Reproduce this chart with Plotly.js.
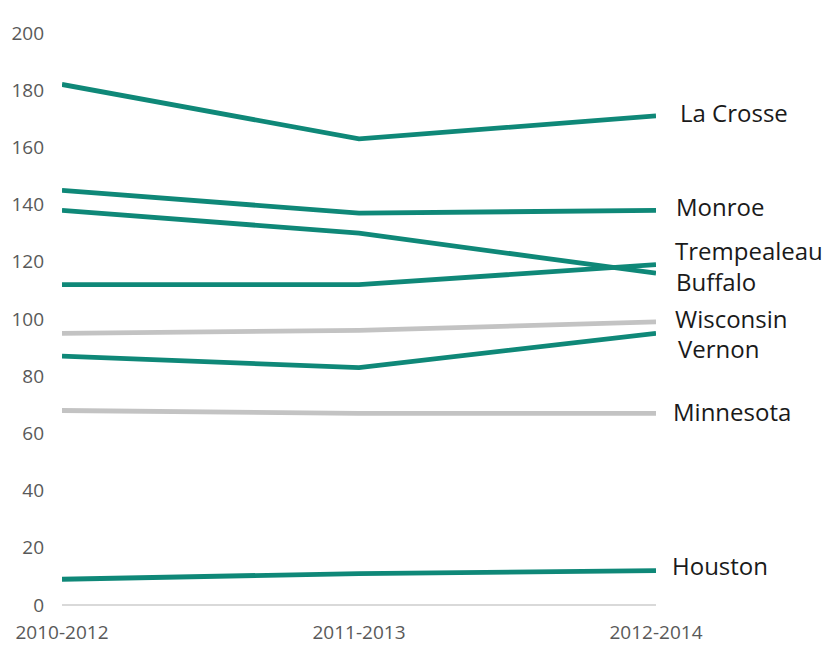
<!DOCTYPE html>
<html>
<head>
<meta charset="utf-8">
<script src="https://cdn.plot.ly/plotly-3.0.1.min.js"></script>
<style>html,body{margin:0;padding:0;background:#fff;}#chart{width:827px;height:646px;}</style>
</head>
<body>
<div id="chart"></div>
<script>
const periods = ["2010-2012", "2011-2013", "2012-2014"];
const seriesNames = ["Wisconsin", "Minnesota", "La Crosse", "Monroe", "Buffalo", "Trempealeau", "Vernon", "Houston"];
const wisconsin = [95, 96, 99];
const minnesota = [68, 67, 67];
const laCrosse = [182, 163, 171];
const monroe = [145, 137, 138];
const buffalo = [138, 130, 116];
const trempealeau = [112, 112, 119];
const vernon = [87, 83, 95];
const houston = [9, 11, 12];
const yTicks = [0, 20, 40, 60, 80, 100, 120, 140, 160, 180, 200];

const teal = "#0f8878";
const grey = "#c3c3c3";
const values = [wisconsin, minnesota, laCrosse, monroe, buffalo, trempealeau, vernon, houston];
const colors = [grey, grey, teal, teal, teal, teal, teal, teal];
// label offsets (pixels) relative to the last point
const labelShift = {
  "Wisconsin": [17, 3], "Minnesota": [15, 2], "La Crosse": [22, 3], "Monroe": [18, 4],
  "Buffalo": [18, -8], "Trempealeau": [17, 14], "Vernon": [20, -15], "Houston": [14, 5]
};

const traces = seriesNames.map((name, i) => ({
  x: periods, y: values[i], type: "scatter", mode: "lines", name: name,
  line: {color: colors[i], width: 4.8}, hoverinfo: "x+y+name"
}));

const annotations = seriesNames.map((name, i) => ({
  x: periods[2], y: values[i][2], xref: "x", yref: "y", text: name,
  showarrow: false, xanchor: "left", yanchor: "middle",
  xshift: labelShift[name][0], yshift: labelShift[name][1],
  font: {family: "Open Sans, sans-serif", size: 24, color: "#1a1a1a"}
}));

const layout = {
  width: 827, height: 646,
  margin: {l: 62, r: 171, t: 33, b: 41, pad: 0},
  paper_bgcolor: "#ffffff", plot_bgcolor: "#ffffff",
  showlegend: false,
  xaxis: {
    type: "category", range: [0, 2], showgrid: false, zeroline: false,
    showline: false, ticks: "", ticklabelstandoff: 14,
    tickfont: {family: "Open Sans, sans-serif", size: 19, color: "#595959"}
  },
  yaxis: {
    range: [0, 200], tickvals: yTicks, ticktext: yTicks.map(String), showgrid: false,
    zeroline: true, zerolinecolor: "#d9d9d9", zerolinewidth: 2, showline: false, ticks: "",
    ticklabelstandoff: 17,
    tickfont: {family: "Open Sans, sans-serif", size: 19, color: "#595959"}
  },
  annotations: annotations
};

Plotly.newPlot("chart", traces, layout, {displayModeBar: false, staticPlot: true});
</script>
</body>
</html>
